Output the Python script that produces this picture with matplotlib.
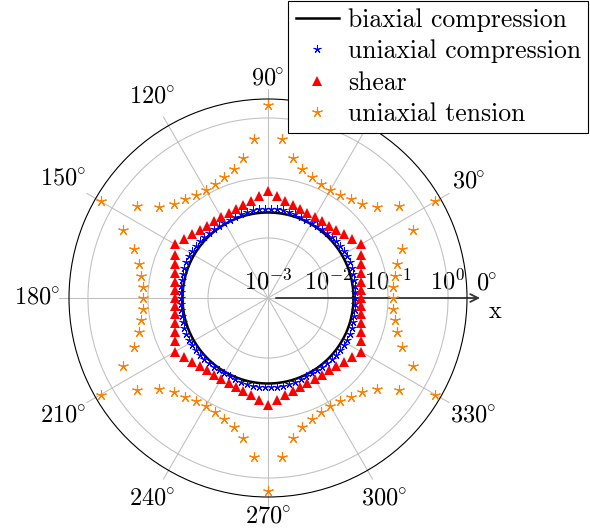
import numpy as np
import matplotlib
matplotlib.use("Agg")
import matplotlib.pyplot as plt

plt.rcParams['mathtext.fontset'] = 'cm'
plt.rcParams['font.family'] = 'cmr10'
plt.rcParams['axes.formatter.use_mathtext'] = True

# radial values (log radial axis)
biaxial_radius = 0.0266

uc_angle = np.arange(0, 360, 4)
uc_r = [0.0282, 0.0283, 0.0286, 0.0291, 0.0297, 0.0303, 0.0307, 0.0310, 0.0310, 0.0307, 0.0303, 0.0297, 0.0291, 0.0286, 0.0283,
        0.0282, 0.0283, 0.0286, 0.0291, 0.0297, 0.0303, 0.0307, 0.0310, 0.0310, 0.0307, 0.0303, 0.0297, 0.0291, 0.0286, 0.0283,
        0.0282, 0.0283, 0.0286, 0.0291, 0.0297, 0.0303, 0.0307, 0.0310, 0.0310, 0.0307, 0.0303, 0.0297, 0.0291, 0.0286, 0.0283,
        0.0282, 0.0283, 0.0286, 0.0291, 0.0297, 0.0303, 0.0307, 0.0310, 0.0310, 0.0307, 0.0303, 0.0297, 0.0291, 0.0286, 0.0283,
        0.0282, 0.0283, 0.0286, 0.0291, 0.0297, 0.0303, 0.0307, 0.0310, 0.0310, 0.0307, 0.0303, 0.0297, 0.0291, 0.0286, 0.0283,
        0.0282, 0.0283, 0.0286, 0.0291, 0.0297, 0.0303, 0.0307, 0.0310, 0.0310, 0.0307, 0.0303, 0.0297, 0.0291, 0.0286, 0.0283]

shear_angle = np.arange(0, 360, 5)
shear_r = [0.0355, 0.0360, 0.0375, 0.0402, 0.0446, 0.0513, 0.0617, 0.0513, 0.0446, 0.0402, 0.0375, 0.0360,
           0.0355, 0.0360, 0.0375, 0.0402, 0.0446, 0.0513, 0.0617, 0.0513, 0.0446, 0.0402, 0.0375, 0.0360,
           0.0355, 0.0360, 0.0375, 0.0402, 0.0446, 0.0513, 0.0617, 0.0513, 0.0446, 0.0402, 0.0375, 0.0360,
           0.0355, 0.0360, 0.0375, 0.0402, 0.0446, 0.0513, 0.0617, 0.0513, 0.0446, 0.0402, 0.0375, 0.0360,
           0.0355, 0.0360, 0.0375, 0.0402, 0.0446, 0.0513, 0.0617, 0.0513, 0.0446, 0.0402, 0.0375, 0.0360,
           0.0355, 0.0360, 0.0375, 0.0402, 0.0446, 0.0513, 0.0617, 0.0513, 0.0446, 0.0402, 0.0375, 0.0360]

ut_angle = np.arange(0, 360, 5)
ut_r = [0.119, 0.124, 0.139, 0.165, 0.233, 0.464, 1.65, 0.464, 0.233, 0.165, 0.139, 0.124,
        0.119, 0.124, 0.139, 0.165, 0.233, 0.464, 1.65, 0.464, 0.233, 0.165, 0.139, 0.124,
        0.119, 0.124, 0.139, 0.165, 0.233, 0.464, 1.65, 0.464, 0.233, 0.165, 0.139, 0.124,
        0.119, 0.124, 0.139, 0.165, 0.233, 0.464, 1.65, 0.464, 0.233, 0.165, 0.139, 0.124,
        0.119, 0.124, 0.139, 0.165, 0.233, 0.464, 1.65, 0.464, 0.233, 0.165, 0.139, 0.124,
        0.119, 0.124, 0.139, 0.165, 0.233, 0.464, 1.65, 0.464, 0.233, 0.165, 0.139, 0.124]

rticks = [1e-3, 1e-2, 1e-1, 1e0]
rtick_labels = [r'$10^{-3}$', r'$10^{-2}$', r'$10^{-1}$', r'$10^{0}$']
theta_ticks = list(range(0, 360, 30))

rmin, rmax = 1e-3, 2.07
fs = 17.5
gray = '#bfbfbf'

fig = plt.figure(figsize=(5.9, 5.32), dpi=100)
ax = fig.add_axes([69/590, 35/532, 398/590, 398/532], projection='polar')
ax.set_rscale('log')
ax.set_rlim(rmin, rmax)
ax.set_rticks(rticks[1:])
ax.yaxis.set_minor_locator(matplotlib.ticker.NullLocator())
ax.set_yticklabels([])
ax.set_xticks([])
ax.yaxis.grid(True, color=gray, lw=0.75)
ax.spines['polar'].set_linewidth(0.8)

# spokes, a bit longer than the outer circle
r_ext = 10 ** (209/60 - 3)
for t in theta_ticks:
    ax.plot([np.deg2rad(t)] * 2, [rmin, r_ext], color=gray, lw=0.75, clip_on=False, zorder=1)

for r, lab in zip(rticks, rtick_labels):
    ax.annotate(lab, xy=(0, r), xytext=(0, 6), textcoords='offset points',
                ha='center', va='baseline', fontsize=fs, zorder=1.5)

theta_fine = np.linspace(0, 2*np.pi, 400)
ax.plot(theta_fine, np.full_like(theta_fine, biaxial_radius), color='black', lw=1.8,
        label='biaxial compression', zorder=3)
ax.plot(np.deg2rad(uc_angle), uc_r, ls='none', marker=(5, 2, 0), ms=5.8, mew=0.7,
        color='blue', label='uniaxial compression', zorder=4)
ax.plot(np.deg2rad(shear_angle), shear_r, ls='none', marker='^', ms=6.5, mew=0,
        color='red', label='shear', zorder=4)
ax.plot(np.deg2rad(ut_angle), ut_r, ls='none', marker=(5, 2, 0), ms=7.5, mew=0.8,
        color='#ff8000', label='uniaxial tension', zorder=4)
ax.set_rlim(rmin, rmax)

# x arrow along the 0 degree line
ax.annotate('', xy=(1.0327, 0.5), xytext=(0.52, 0.5), xycoords='axes fraction',
            arrowprops=dict(arrowstyle='->', color='#333333', lw=1.3, shrinkA=0, shrinkB=0,
                            mutation_scale=14))
ax.text(1.0704, 0.465, 'x', transform=ax.transAxes, ha='center', va='center', fontsize=fs)

# angle labels, box touching the outer circle
fig.canvas.draw()
renderer = fig.canvas.get_renderer()
pad = 9
for t in theta_ticks:
    txt = ax.text(0.5, 0.5, r'$%d\hspace{-0.07}^{\circ}$' % t, transform=ax.transAxes,
                  ha='center', va='center', fontsize=fs)
    bb = txt.get_window_extent(renderer)
    c, s = np.cos(np.deg2rad(t)), np.sin(np.deg2rad(t))
    d = (bb.width/2 + pad) * abs(c) + (bb.height/2 + pad) * abs(s)
    f = 0.5 * (1 + d / 199)
    dy = 14 / 398 if t == 0 else 0
    txt.set_position((0.5 + f*c, 0.5 + f*s + dy))

leg = fig.legend(loc='upper right', bbox_to_anchor=(588/590, 531/532), fontsize=18.5,
                 frameon=True, fancybox=False, edgecolor='black', framealpha=1,
                 borderaxespad=0, handlelength=1.7, handletextpad=0.33,
                 labelspacing=0.3, borderpad=0.28, numpoints=1)
leg.get_frame().set_linewidth(0.8)

fig.savefig('out.png', dpi=100)
